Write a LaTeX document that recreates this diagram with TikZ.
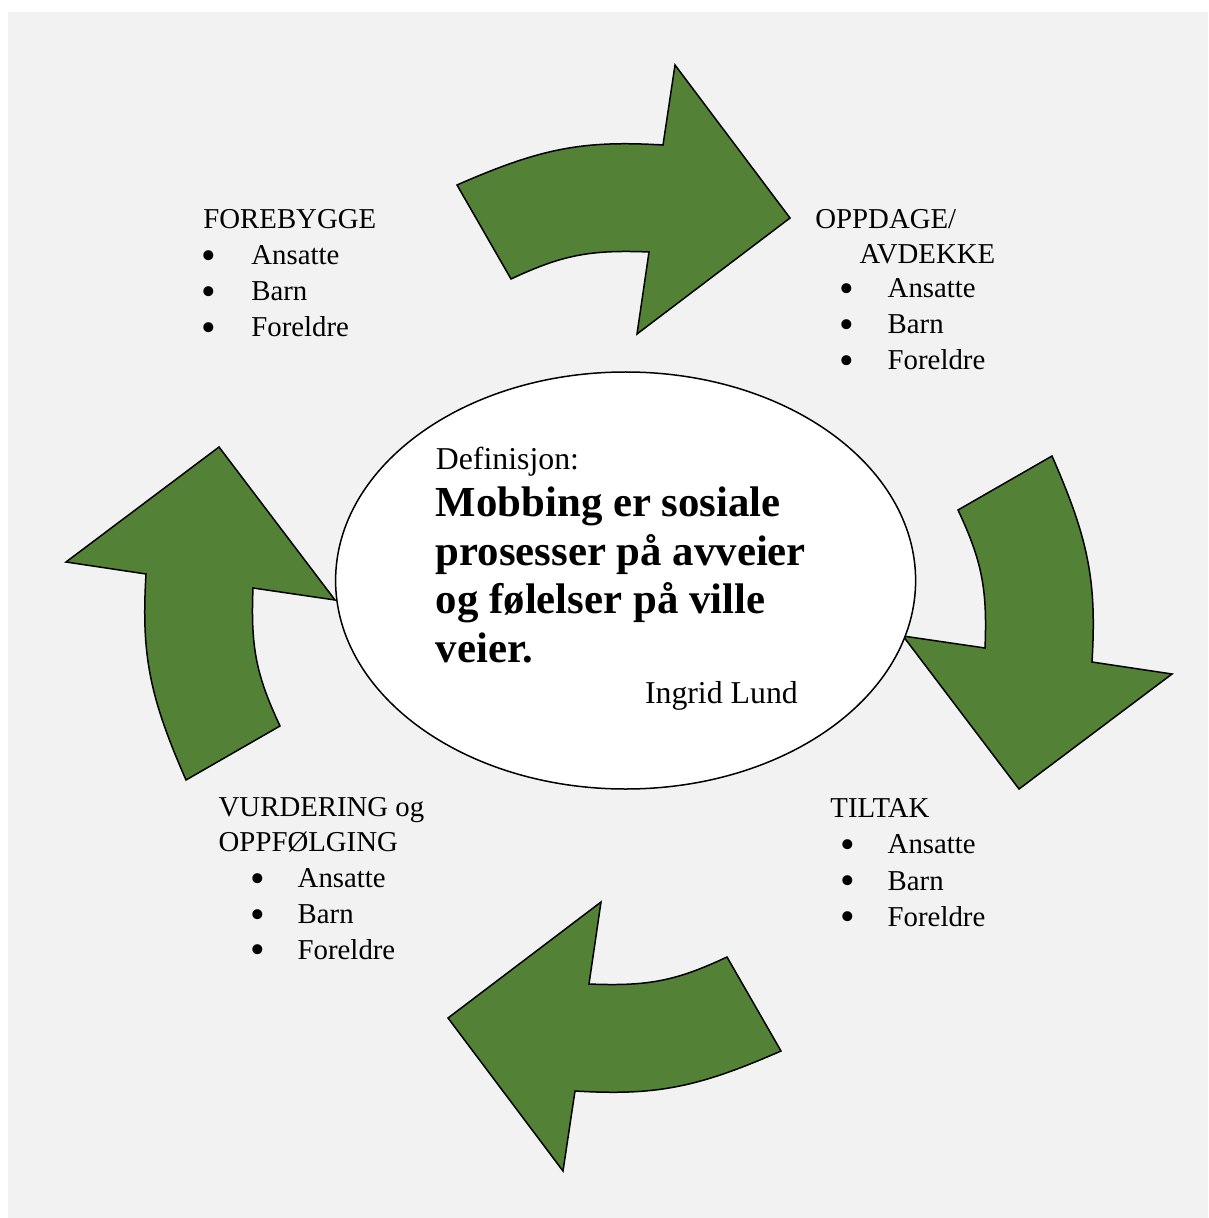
\documentclass[tikz,border=0pt]{standalone}
\usepackage{fontspec}
\setmainfont{Liberation Serif}
\usetikzlibrary{shapes.geometric}
\definecolor{leafgreen}{HTML}{538135}
\definecolor{pagegray}{HTML}{F2F2F2}
\newcommand\bigdot{\scalebox{1.45}{•}}
\tikzset{
  bentarrow/.pic={
    \draw[fill=leafgreen,line width=0.75pt,line join=miter]
      (-162,-433) .. controls (-78,-469.8) and (-36.8,-477.8) .. (44,-473)
      -- (56,-553) -- (171,-400) -- (18,-284) -- (30,-366)
      .. controls (-29.2,-368.4) and (-56.8,-363) .. (-108,-339) -- cycle;
  },
  plaintext/.style={inner sep=0pt,anchor=base west,font=\fontsize{14.4}{17}\selectfont},
  listdot/.style={inner sep=0pt,anchor=base,yshift=-2.4pt,font=\fontsize{14.4}{17}\selectfont},
  quotetext/.style={inner sep=0pt,anchor=base west,font=\fontsize{15.9}{19}\selectfont},
  boldline/.style={inner sep=0pt,anchor=base west,font=\fontsize{21.4}{25}\selectfont\bfseries},
}
\begin{document}
\begin{tikzpicture}[x=0.5pt,y=-0.5pt]
\fill[white] (0,0) rectangle (1208,1218);
\fill[pagegray] (8,12) rectangle (1208,1218);
\useasboundingbox (0,0) rectangle (1208,1218);

\pic at (619,618) {bentarrow};
\pic[rotate=-90] at (619,618) {bentarrow};
\pic[rotate=180] at (619,618) {bentarrow};
\pic[rotate=90] at (619,618) {bentarrow};

\node[draw,ellipse,fill=white,line width=0.75pt,inner sep=0pt,minimum width=290pt,minimum height=208.5pt] (definition) at (625.6,580.5) {};
\node[quotetext] (def-head) at (435.5,470) {Definisjon:};
\node[boldline] (def-l1) at (435.5,516.7) {Mobbing er sosiale};
\node[boldline] (def-l2) at (435.5,565) {prosesser på avveier};
\node[boldline] (def-l3) at (435.5,613.5) {og følelser på ville};
\node[boldline] (def-l4) at (435.5,662) {veier.};
\node[quotetext] (def-author) at (644.6,703) {Ingrid Lund};

\node[plaintext] (forebygge) at (203,229) {FOREBYGGE};
\node[listdot] (fb-dot1) at (209,264.3) {\bigdot};
\node[plaintext] (fb-ansatte) at (251,264.3) {Ansatte};
\node[listdot] (fb-dot2) at (209,300.5) {\bigdot};
\node[plaintext] (fb-barn) at (251,300.5) {Barn};
\node[listdot] (fb-dot3) at (209,336.7) {\bigdot};
\node[plaintext] (fb-foreldre) at (251,336.7) {Foreldre};

\node[plaintext] (oppdage) at (815,229) {OPPDAGE/};
\node[plaintext] (avdekke) at (859.3,263.5) {AVDEKKE};
\node[listdot] (op-dot1) at (847,298) {\bigdot};
\node[plaintext] (op-ansatte) at (887.3,298) {Ansatte};
\node[listdot] (op-dot2) at (847,334) {\bigdot};
\node[plaintext] (op-barn) at (887.3,334) {Barn};
\node[listdot] (op-dot3) at (847,370) {\bigdot};
\node[plaintext] (op-foreldre) at (887.3,370) {Foreldre};

\node[plaintext] (tiltak) at (830,817.3) {TILTAK};
\node[listdot] (ti-dot1) at (847.3,853.5) {\bigdot};
\node[plaintext] (ti-ansatte) at (887.3,853.5) {Ansatte};
\node[listdot] (ti-dot2) at (847.3,890) {\bigdot};
\node[plaintext] (ti-barn) at (887.3,890) {Barn};
\node[listdot] (ti-dot3) at (847.3,926) {\bigdot};
\node[plaintext] (ti-foreldre) at (887.3,926) {Foreldre};

\node[plaintext] (vurdering) at (218.3,816.7) {VURDERING og};
\node[plaintext] (oppfolging) at (218.3,851.7) {OPPFØLGING};
\node[listdot] (vu-dot1) at (257.5,887.3) {\bigdot};
\node[plaintext] (vu-ansatte) at (297.3,887.3) {Ansatte};
\node[listdot] (vu-dot2) at (257.5,923.3) {\bigdot};
\node[plaintext] (vu-barn) at (297.3,923.3) {Barn};
\node[listdot] (vu-dot3) at (257.5,959) {\bigdot};
\node[plaintext] (vu-foreldre) at (297.3,959) {Foreldre};
\end{tikzpicture}
\end{document}
